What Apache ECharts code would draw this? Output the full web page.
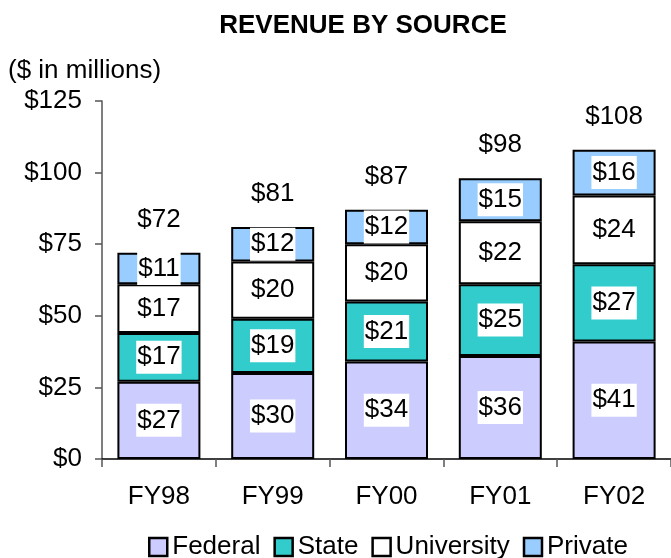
<!DOCTYPE html>
<html>
<head>
<meta charset="utf-8">
<script src="https://cdn.jsdelivr.net/npm/echarts@6/dist/echarts.min.js"></script>
<style>
html,body{margin:0;padding:0;background:#fff;}
#chart{width:671px;height:558px;}
</style>
</head>
<body>
<div id="chart"></div>
<script>
var categories = ['FY98', 'FY99', 'FY00', 'FY01', 'FY02'];
var federal = [27, 30, 34, 36, 41];
var state = [17, 19, 21, 25, 27];
var university = [17, 20, 20, 22, 24];
var privateVals = [11, 12, 12, 15, 16];
var totals = [72, 81, 87, 98, 108];
var yTicks = [0, 25, 50, 75, 100, 125];

var font = 'Liberation Sans, Arial, sans-serif';
var fs = 26;

function barSeries(name, data, color) {
    return {
        name: name,
        type: 'bar',
        stack: 'rev',
        data: data,
        barWidth: 83,
        itemStyle: {color: color, borderColor: '#000', borderWidth: 2},
        label: {
            show: true,
            position: 'inside',
            formatter: '${c}',
            color: '#000',
            fontSize: fs,
            fontFamily: font,
            backgroundColor: '#fff',
            padding: [4, 1, 3, 1]
        }
    };
}

var myChart = echarts.init(document.getElementById('chart'));
myChart.setOption({
    animation: false,
    title: [
        {text: 'REVENUE BY SOURCE', left: 358, top: 8, textAlign: 'center',
            textStyle: {fontSize: 26, fontWeight: 'bold', color: '#000', fontFamily: font}},
        {text: '($ in millions)', left: 3, top: 53,
            textStyle: {fontSize: fs, fontWeight: 'normal', color: '#000', fontFamily: font}}
    ],
    legend: {
        top: 529,
        left: 143,
        itemWidth: 18,
        itemHeight: 18,
        itemGap: 13,
        textStyle: {fontSize: fs, color: '#000', fontFamily: font},
        data: ['Federal', 'State', 'University', 'Private'].map(function (n) {
            return {name: n, icon: 'rect', itemStyle: {borderColor: '#000', borderWidth: 2.5}};
        })
    },
    grid: {left: 102, right: -6, top: 101, bottom: 99},
    xAxis: {
        type: 'category',
        data: categories,
        axisLine: {lineStyle: {color: '#000', width: 1.5}},
        axisTick: {show: true, length: 8, lineStyle: {color: '#555', width: 1.5}},
        axisLabel: {fontSize: fs, color: '#000', fontFamily: font, margin: 25}
    },
    yAxis: {
        type: 'value',
        min: yTicks[0],
        max: yTicks[yTicks.length - 1],
        interval: 25,
        splitLine: {show: false},
        axisLine: {show: true, lineStyle: {color: '#555', width: 1.5}},
        axisTick: {show: true, length: 7, lineStyle: {color: '#555', width: 1.5}},
        axisLabel: {fontSize: fs, color: '#000', fontFamily: font, margin: 20, formatter: '${value}'}
    },
    series: [
        barSeries('Federal', federal, '#CCCCFF'),
        barSeries('State', state, '#33CCCC'),
        barSeries('University', university, '#FFFFFF'),
        barSeries('Private', privateVals, '#99CCFF'),
        {
            name: 'Total',
            type: 'scatter',
            data: totals,
            symbolSize: 0,
            silent: true,
            itemStyle: {opacity: 1},
            label: {
                show: true,
                position: 'top',
                distance: 20,
                formatter: '${c}',
                color: '#000',
                opacity: 1,
                fontSize: fs,
                fontFamily: font
            }
        }
    ]
});
</script>
</body>
</html>
